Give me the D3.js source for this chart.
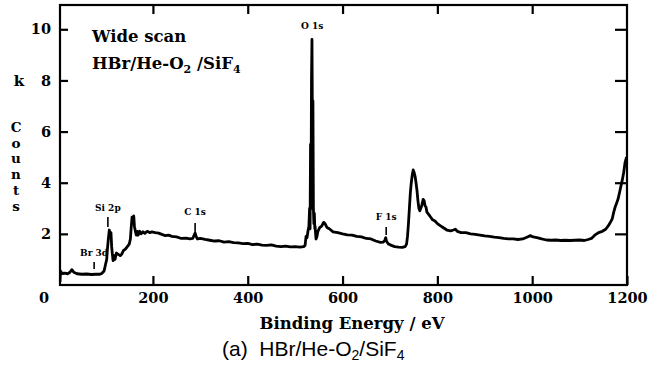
<!DOCTYPE html>
<html><head><meta charset="utf-8">
<script src="https://cdn.jsdelivr.net/npm/d3@7"></script>
<style>
html,body{margin:0;padding:0;background:#fff;}
svg{display:block;}
</style></head>
<body>
<svg id="chart" width="661" height="369"></svg>
<script>
// ---- data ----
const energy = [4,5,8,14,20,25,29,33,40,50,60,70,80,88,92,97,100,102.5,104,106,108,110,111.5,113,114.5,116,118,120,123,127,131,134,138,142,146,150,152.5,154,156,158,159.5,161,163,165,167,169,172,175,179,183,188,193,198,205,212,220,226,233,240,250,260,270,278,284,287,289,291,294,300,310,320,330,340,350,360,370,380,390,400,410,420,430,440,450,460,470,480,490,500,510,518,521,523,525,527,529,530.5,531.5,532.5,533.5,534.5,535.5,536.5,537.5,538.5,539.5,540.5,541.5,542,544,546,548,552,556,560,563,567,572,580,590,600,610,620,630,640,650,660,670,680,686,689,691,693,697,703,710,718,726,732,735,737,739,741,743,745,747,749,751,753,755,757,759,761,763,765,767,770,772,774,776,778,782,786,790,795,800,806,812,820,828,834,838,842,850,860,870,880,890,900,910,920,930,940,950,960,970,980,990,996,1002,1010,1020,1030,1040,1050,1060,1070,1080,1090,1100,1110,1118,1125,1132,1140,1148,1155,1160,1165,1169,1172,1175,1178,1181,1184,1187,1190,1193,1196,1199];
const counts = [0.12,0.55,0.45,0.46,0.44,0.5,0.6,0.5,0.44,0.42,0.43,0.41,0.42,0.42,0.45,0.55,0.8,1.0,1.4,1.8,2.15,1.95,2.05,1.5,1.2,0.95,1.15,1.0,1.25,1.2,1.15,1.2,1.35,1.4,1.5,1.6,1.8,2.2,2.65,2.55,2.7,2.3,2.1,1.95,2.1,1.95,2.1,2.0,2.08,2.02,2.1,2.05,2.08,2.05,2.03,1.97,1.93,1.95,1.9,1.88,1.82,1.83,1.8,1.82,1.95,2.03,1.9,1.8,1.82,1.78,1.75,1.72,1.73,1.68,1.7,1.66,1.65,1.62,1.63,1.58,1.6,1.56,1.55,1.57,1.52,1.5,1.52,1.49,1.5,1.48,1.5,1.55,1.9,1.85,2.1,2.3,3.0,2.2,5.5,3.0,8.0,9.6,6.0,7.2,3.0,2.4,2.8,2.2,2.3,1.8,1.9,2.1,2.25,2.3,2.45,2.4,2.25,2.2,2.08,2.05,2.0,1.96,1.95,1.9,1.88,1.82,1.8,1.72,1.67,1.68,1.75,1.85,1.7,1.6,1.55,1.5,1.48,1.47,1.5,1.6,1.9,2.4,3.0,3.6,4.0,4.3,4.5,4.4,4.25,4.0,3.7,3.3,3.0,2.9,3.0,3.1,3.35,3.3,3.1,3.05,2.85,2.75,2.65,2.55,2.5,2.4,2.32,2.25,2.15,2.12,2.15,2.18,2.1,2.05,2.05,2.0,1.98,1.95,1.92,1.9,1.87,1.85,1.82,1.8,1.8,1.78,1.8,1.88,1.93,1.88,1.85,1.8,1.76,1.75,1.76,1.74,1.75,1.74,1.75,1.76,1.74,1.78,1.82,1.95,2.05,2.1,2.18,2.3,2.45,2.6,2.85,3.05,3.2,3.35,3.6,3.85,4.1,4.4,4.8,5.0];

const xTickValues = [200,400,600,800,1000,1200];
const yTickValues = [2,4,6,8,10];

const peakNames   = ["Br 3d","Si 2p","C 1s","O 1s","F 1s"];
const peakEnergy  = [76,105,289,536,692];
const peakMarkTop = [0.9,2.66,2.42,null,2.27];
const peakMarkBot = [0.63,2.27,2.07,null,1.96];
const peakTextY   = [1.15,2.9,2.73,10.0,2.55];

const yAxisLetters = ["C","o","u","n","t","s"];

// ---- layout ----
const svg = d3.select("#chart");
const L = 60, R = 627, T = 5, B = 285;
const x = d3.scaleLinear().domain([4,1200]).range([L,R]);
const y = d3.scaleLinear().domain([0,10.95]).range([B,T]);
const serif = "'DejaVu Serif', serif";

svg.append("defs").append("clipPath").attr("id","clip")
  .append("rect").attr("x",L).attr("y",T).attr("width",R-L).attr("height",B-T);

// spectrum
const pts = energy.map((e,i)=>[e,counts[i]]);
svg.append("path").datum(pts)
  .attr("clip-path","url(#clip)")
  .attr("fill","none").attr("stroke","#000").attr("stroke-width",2.8)
  .attr("stroke-linejoin","round")
  .attr("d", d3.line().x(d=>x(d[0])).y(d=>y(d[1])));

// axes
function styleAxis(g){
  g.select(".domain").remove();
  g.selectAll(".tick line").attr("stroke","#000").attr("stroke-width",2.2);
  g.selectAll("text").attr("font-family",serif).attr("font-weight","bold")
   .attr("font-size",14.5).attr("fill","#000");
}
svg.append("g").attr("transform",`translate(0,${B})`)
  .call(d3.axisBottom(x).tickValues(xTickValues).tickSizeInner(-9).tickSizeOuter(0).tickPadding(8).tickFormat(d3.format("d")))
  .call(styleAxis);
svg.append("g").attr("transform",`translate(0,${T})`)
  .call(d3.axisTop(x).tickValues(xTickValues.slice(0,-1)).tickSizeInner(-9).tickSizeOuter(0).tickFormat(""))
  .call(styleAxis);
svg.append("g").attr("transform",`translate(${L},0)`)
  .call(d3.axisLeft(y).tickValues(yTickValues).tickSizeInner(-8).tickSizeOuter(0).tickPadding(9))
  .call(styleAxis);
svg.append("g").attr("transform",`translate(${R},0)`)
  .call(d3.axisRight(y).tickValues(yTickValues).tickSizeInner(-12).tickSizeOuter(0).tickFormat(""))
  .call(styleAxis);

// "0" corner label
svg.append("text").attr("x",L-11).attr("y",B+8).attr("dy","0.71em")
  .attr("text-anchor","end").attr("font-family",serif).attr("font-weight","bold")
  .attr("font-size",14.5).text("0");

// frame
svg.append("rect").attr("x",L).attr("y",T).attr("width",R-L).attr("height",B-T)
  .attr("fill","none").attr("stroke","#000").attr("stroke-width",2.2);

// y axis title (k / Counts stacked)
svg.append("text").attr("x",19).attr("y",y(8)).attr("dy","0.35em")
  .attr("text-anchor","middle").attr("font-family",serif).attr("font-weight","bold")
  .attr("font-size",15).text("k");
svg.append("g").selectAll("text").data(yAxisLetters).join("text")
  .attr("x",16).attr("y",(d,i)=>127+i*15.8).attr("dy","0.35em")
  .attr("text-anchor","middle").attr("font-family",serif).attr("font-weight","bold")
  .attr("font-size",13.5).text(d=>d);

// x axis title
svg.append("text").attr("x",352).attr("y",329)
  .attr("text-anchor","middle").attr("font-family",serif).attr("font-weight","bold")
  .attr("font-size",16.5).text("Binding Energy / eV");

// caption
const cap = svg.append("text").attr("x",222).attr("y",356)
  .attr("font-family","'Liberation Sans', Arial, sans-serif").attr("font-size",21).attr("fill","#000");
cap.append("tspan").text("(a)\u00a0 HBr/He-O");
cap.append("tspan").attr("font-size",14).attr("dy",4).text("2");
cap.append("tspan").attr("dy",-4).text("/SiF");
cap.append("tspan").attr("font-size",14).attr("dy",4).text("4");

// annotation
svg.append("text").attr("x",92).attr("y",42)
  .attr("font-family",serif).attr("font-weight","bold").attr("font-size",16.5).text("Wide scan");
const ann = svg.append("text").attr("x",92).attr("y",69)
  .attr("font-family",serif).attr("font-weight","bold").attr("font-size",16.5);
ann.append("tspan").text("HBr/He-O");
ann.append("tspan").attr("font-size",11).attr("dy",4).text("2");
ann.append("tspan").attr("dy",-4).text(" /SiF");
ann.append("tspan").attr("font-size",11).attr("dy",4).text("4");

// peak labels
peakNames.forEach((n,i)=>{
  svg.append("text").attr("x",x(peakEnergy[i])).attr("y",y(peakTextY[i]))
    .attr("text-anchor","middle").attr("font-family",serif).attr("font-weight","bold")
    .attr("font-size",9).text(n);
  if(peakMarkTop[i]!==null){
    svg.append("line").attr("x1",x(peakEnergy[i])).attr("x2",x(peakEnergy[i]))
      .attr("y1",y(peakMarkTop[i])).attr("y2",y(peakMarkBot[i]))
      .attr("stroke","#000").attr("stroke-width",1.6);
  }
});
</script>
</body></html>
